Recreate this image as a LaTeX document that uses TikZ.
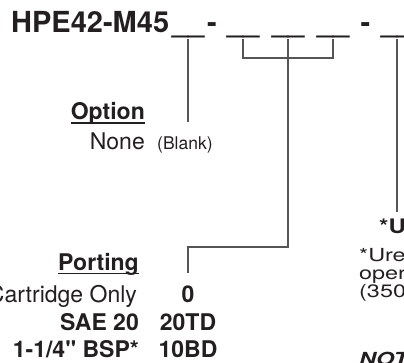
\documentclass[tikz,border=0pt]{standalone}
\usepackage{fontspec}
\setmainfont{TeX Gyre Heros}
\definecolor{ink}{HTML}{231F20}
\definecolor{leader}{HTML}{555555}
\newcommand{\fsz}[1]{\fontsize{#1}{#1}\selectfont}
\newcommand{\wide}[2][1.3]{\scalebox{#1}[1]{#2}}

\begin{document}
\begin{tikzpicture}[x=1pt,y=-1pt,
		every node/.style={inner sep=0pt,text=ink},
		blank/.style={anchor=base,font=\fsz{29}\bfseries},
		heading/.style={anchor=base east,font=\fsz{23}\bfseries},
		entry/.style={anchor=base east,font=\fsz{23}},
		code/.style={anchor=base,font=\fsz{23}\bfseries},
		note/.style={anchor=base west,font=\fsz{18}},
		leadline/.style={draw=leader,line width=1.1pt},
		uline/.style={draw=ink,line width=1.4pt}]
\useasboundingbox (0,0) rectangle (404,362);
\clip (0,0) rectangle (404,362);
% part number with its blanks
\node[anchor=base west,font=\fsz{29}\bfseries] (part) at (11,32.5) {HPE42-M45};
\node[blank] (b1) at (188,32.5) {\_\_};
\node[blank] (d1) at (212,32.5) {-};
\node[blank] (b2) at (243,32.5) {\_\_};
\node[blank] (b3) at (288,32.5) {\_\_};
\node[blank] (b4) at (333,32.5) {\_\_};
\node[blank] (d2) at (365.5,32.5) {-};
\node[blank] (b5) at (397,32.5) {\_\_};
% line ends
\coordinate (optEnd) at (188,122);
\coordinate (brk) at (333,58);
\coordinate (portTurn) at (188,247);
\coordinate (portEnd) at (188,273);
\coordinate (unitEnd) at (397,212);
\draw[leadline] ([yshift=-6.5pt]b1.base) -- (optEnd);
\draw[leadline] ([yshift=-6.5pt]b2.base) |- (brk) -- ([yshift=-6.5pt]b4.base);
\draw[leadline] ([yshift=-6.5pt]b3.base) |- (portTurn) -- (portEnd);
\draw[leadline] ([yshift=-6.5pt]b5.base) -- (unitEnd);
% option
\node[heading] (opt) at (145,119) {Option};
\draw[uline] ([yshift=-4pt]opt.base west) -- ([yshift=-4pt]opt.base east);
\node[entry] (none) at (145,149) {None};
\node[anchor=base west,font=\fsz{17.5}] (blk) at (157,149) {(Blank)};
% porting
\node[heading] (port) at (139,270) {Porting};
\draw[uline] ([yshift=-3.5pt]port.base west) -- ([yshift=-3.5pt]port.base east);
\node[entry] (cart) at (137,302) {Cartridge Only};
\node[code] (c0) at (188,302) {0};
\node[heading] (sae) at (139,330) {SAE 20};
\node[code] (c20) at (188,330) {20TD};
\node[heading] (bsp) at (139,357) {1-1/4\textquotedbl{} BSP*};
\node[code] (c10) at (188,357) {10BD};
% right hand notes
\node[anchor=base west,font=\fsz{20}\bfseries] (unit) at (379,233) {\wide[1.2]{*U}};
\node[note] (n1) at (359,261.5) {\wide{*Ure}};
\node[note] (n2) at (359,279.5) {\wide{oper}};
\node[note] (n3) at (359,297) {\wide{(350}};
\node[note,font=\fsz{18}\bfseries\itshape] (nt) at (359,365) {\wide{NOT}};
\end{tikzpicture}
\end{document}
